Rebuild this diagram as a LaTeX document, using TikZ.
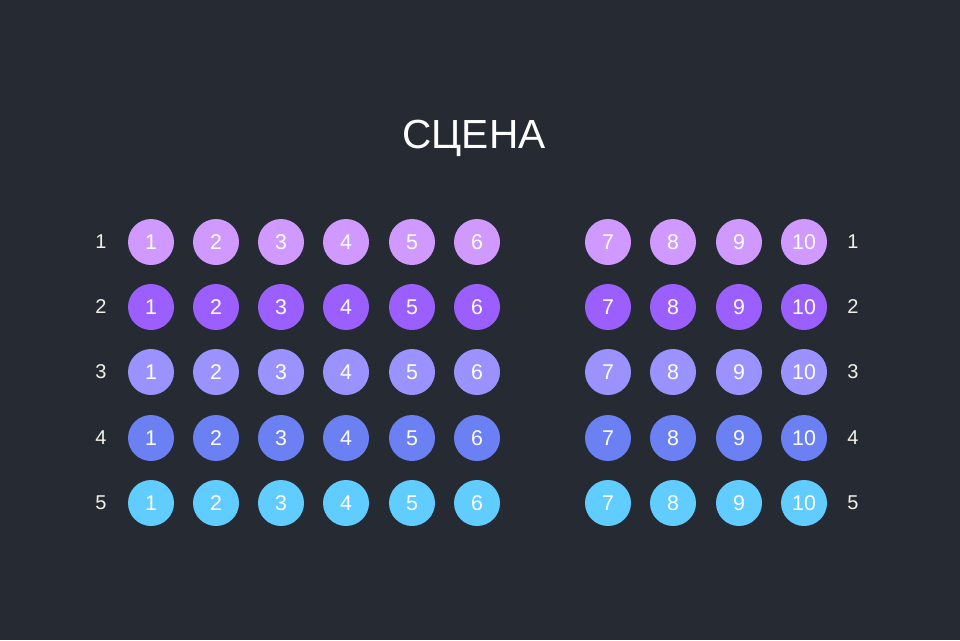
\documentclass[tikz,border=0pt]{standalone}
\usepackage{fontspec}
\setmainfont{Liberation Sans}
\definecolor{bgdark}{HTML}{262A33}
\definecolor{rowone}{HTML}{CF99FF}
\definecolor{rowtwo}{HTML}{9B5FFF}
\definecolor{rowthree}{HTML}{9A93FF}
\definecolor{rowfour}{HTML}{6B80F2}
\definecolor{rowfive}{HTML}{60CCFF}
\definecolor{labelcream}{HTML}{F4F1E6}
\tikzset{every picture/.style={line width=0.75pt}}
\tikzset{
  seat/.style={circle, draw=none, inner sep=0pt, minimum size=34.5pt, text=white, font=\fontsize{16}{16}\selectfont},
  rowlabel/.style={inner sep=0.75pt, text=labelcream, font=\fontsize{15}{15}\selectfont},
}

\begin{document}
\begin{tikzpicture}[x=0.75pt,y=0.75pt,yscale=-1,xscale=1]
%background, sets the picture 960 wide and 640 high
\fill [bgdark] (0,0) rectangle (960,640);

% Text Node
\draw (474,138) node [inner sep=0pt, text=white, font=\fontsize{30.5}{30.5}\selectfont] (stage) {СЦЕНА};

%Row 1
\draw (101,242) node [rowlabel] (l1) {1};
\draw (151,242) node [seat, fill=rowone] (r1s1) {1};
\draw (216,242) node [seat, fill=rowone] (r1s2) {2};
\draw (281,242) node [seat, fill=rowone] (r1s3) {3};
\draw (346,242) node [seat, fill=rowone] (r1s4) {4};
\draw (412,242) node [seat, fill=rowone] (r1s5) {5};
\draw (477,242) node [seat, fill=rowone] (r1s6) {6};
\draw (608,242) node [seat, fill=rowone] (r1s7) {7};
\draw (673,242) node [seat, fill=rowone] (r1s8) {8};
\draw (739,242) node [seat, fill=rowone] (r1s9) {9};
\draw (804,242) node [seat, fill=rowone] (r1s10) {10};
\draw (853,242) node [rowlabel] (r1) {1};

%Row 2
\draw (101,307) node [rowlabel] (l2) {2};
\draw (151,307) node [seat, fill=rowtwo] (r2s1) {1};
\draw (216,307) node [seat, fill=rowtwo] (r2s2) {2};
\draw (281,307) node [seat, fill=rowtwo] (r2s3) {3};
\draw (346,307) node [seat, fill=rowtwo] (r2s4) {4};
\draw (412,307) node [seat, fill=rowtwo] (r2s5) {5};
\draw (477,307) node [seat, fill=rowtwo] (r2s6) {6};
\draw (608,307) node [seat, fill=rowtwo] (r2s7) {7};
\draw (673,307) node [seat, fill=rowtwo] (r2s8) {8};
\draw (739,307) node [seat, fill=rowtwo] (r2s9) {9};
\draw (804,307) node [seat, fill=rowtwo] (r2s10) {10};
\draw (853,307) node [rowlabel] (r2) {2};

%Row 3
\draw (101,372) node [rowlabel] (l3) {3};
\draw (151,372) node [seat, fill=rowthree] (r3s1) {1};
\draw (216,372) node [seat, fill=rowthree] (r3s2) {2};
\draw (281,372) node [seat, fill=rowthree] (r3s3) {3};
\draw (346,372) node [seat, fill=rowthree] (r3s4) {4};
\draw (412,372) node [seat, fill=rowthree] (r3s5) {5};
\draw (477,372) node [seat, fill=rowthree] (r3s6) {6};
\draw (608,372) node [seat, fill=rowthree] (r3s7) {7};
\draw (673,372) node [seat, fill=rowthree] (r3s8) {8};
\draw (739,372) node [seat, fill=rowthree] (r3s9) {9};
\draw (804,372) node [seat, fill=rowthree] (r3s10) {10};
\draw (853,372) node [rowlabel] (r3) {3};

%Row 4
\draw (101,438) node [rowlabel] (l4) {4};
\draw (151,438) node [seat, fill=rowfour] (r4s1) {1};
\draw (216,438) node [seat, fill=rowfour] (r4s2) {2};
\draw (281,438) node [seat, fill=rowfour] (r4s3) {3};
\draw (346,438) node [seat, fill=rowfour] (r4s4) {4};
\draw (412,438) node [seat, fill=rowfour] (r4s5) {5};
\draw (477,438) node [seat, fill=rowfour] (r4s6) {6};
\draw (608,438) node [seat, fill=rowfour] (r4s7) {7};
\draw (673,438) node [seat, fill=rowfour] (r4s8) {8};
\draw (739,438) node [seat, fill=rowfour] (r4s9) {9};
\draw (804,438) node [seat, fill=rowfour] (r4s10) {10};
\draw (853,438) node [rowlabel] (r4) {4};

%Row 5
\draw (101,503) node [rowlabel] (l5) {5};
\draw (151,503) node [seat, fill=rowfive] (r5s1) {1};
\draw (216,503) node [seat, fill=rowfive] (r5s2) {2};
\draw (281,503) node [seat, fill=rowfive] (r5s3) {3};
\draw (346,503) node [seat, fill=rowfive] (r5s4) {4};
\draw (412,503) node [seat, fill=rowfive] (r5s5) {5};
\draw (477,503) node [seat, fill=rowfive] (r5s6) {6};
\draw (608,503) node [seat, fill=rowfive] (r5s7) {7};
\draw (673,503) node [seat, fill=rowfive] (r5s8) {8};
\draw (739,503) node [seat, fill=rowfive] (r5s9) {9};
\draw (804,503) node [seat, fill=rowfive] (r5s10) {10};
\draw (853,503) node [rowlabel] (r5) {5};

\end{tikzpicture}
\end{document}
